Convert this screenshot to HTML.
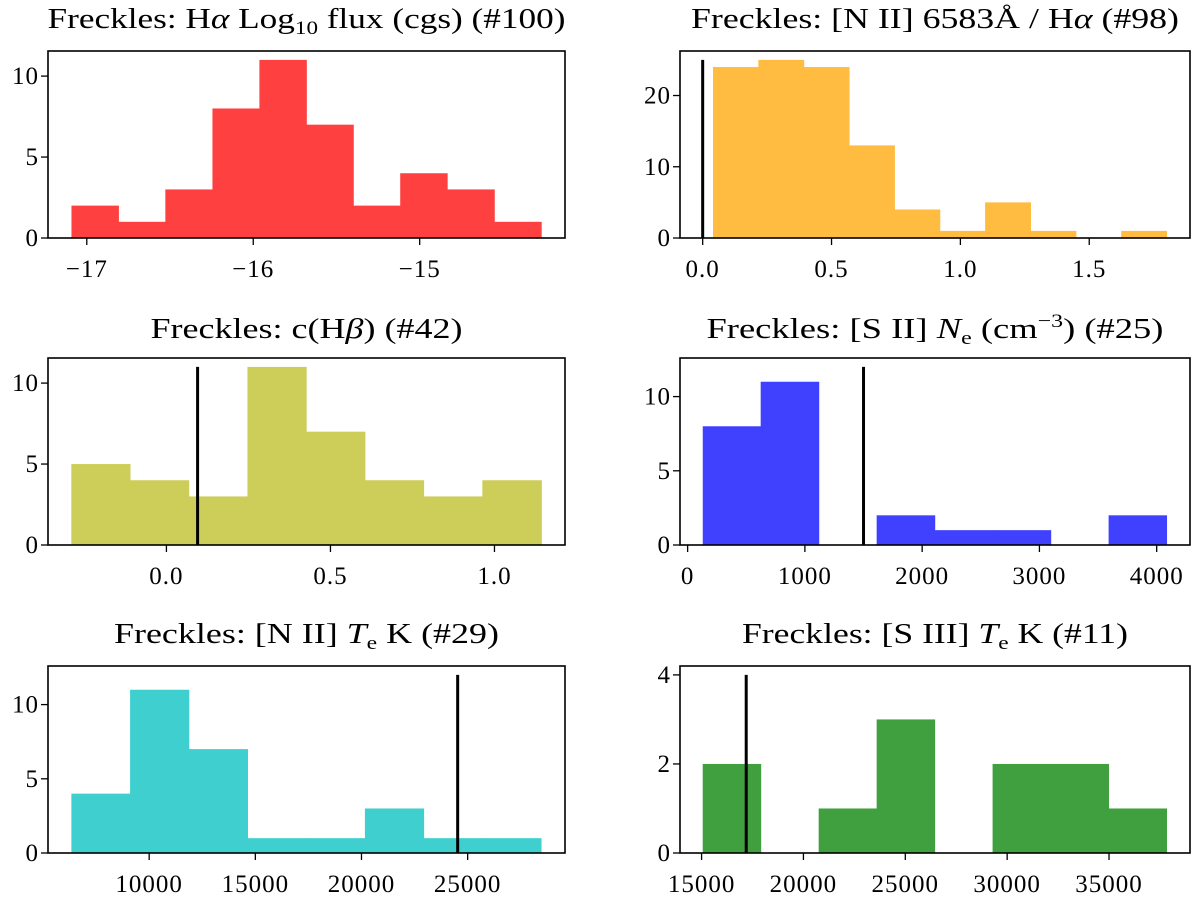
<!DOCTYPE html>
<html><head><meta charset="utf-8"><style>
body{margin:0;background:#fff}
svg{display:block;font-family:"Liberation Serif","DejaVu Serif",serif}
</style></head><body>
<svg id="fig" width="1200" height="897" viewBox="0 0 1200 897"></svg>
<script>
// ---- data (bin edges, counts, reference lines) ----
const p1Edges=[-17.092,-16.810,-16.528,-16.245,-15.963,-15.681,-15.399,-15.117,-14.835,-14.552,-14.270];
const p1Counts=[2,1,3,8,11,7,2,4,3,1];
const p1XTicks=[-17,-16,-15];
const p1YTicks=[0,5,10];

const p2Edges=[0.040,0.216,0.392,0.568,0.744,0.920,1.096,1.272,1.448,1.624,1.800];
const p2Counts=[24,25,24,13,4,1,5,1,0,1];
const p2XTicks=[0.0,0.5,1.0,1.5];
const p2YTicks=[0,10,20];
const p2Line=[0.0,25];

const p3Edges=[-0.290,-0.111,0.068,0.247,0.426,0.605,0.784,0.963,1.143];
const p3Counts=[5,4,3,11,7,4,3,4];
const p3XTicks=[0.0,0.5,1.0];
const p3YTicks=[0,5,10];
const p3Line=[0.095,11];

const p4Edges=[129,623,1118,1612,2107,2601,3096,3590,4084];
const p4Counts=[8,11,0,2,1,1,0,2];
const p4XTicks=[0,1000,2000,3000,4000];
const p4YTicks=[0,5,10];
const p4Line=[1500,12];

const p5Edges=[6336,9101,11866,14631,17396,20161,22926,25691,28456];
const p5Counts=[4,11,7,1,1,3,1,1];
const p5XTicks=[10000,15000,20000,25000];
const p5YTicks=[0,5,10];
const p5Line=[24530,12];

const p6Edges=[15056,17902,20748,23594,26440,29285,32131,34977,37822];
const p6Counts=[2,0,1,3,0,2,2,1];
const p6XTicks=[15000,20000,25000,30000,35000];
const p6YTicks=[0,2,4];
const p6Line=[17191,4];

const NS="http://www.w3.org/2000/svg";
const svg=document.getElementById('fig');
function mk(tag,attrs,parent){const e=document.createElementNS(NS,tag);for(const k in attrs)e.setAttribute(k,attrs[k]);(parent||svg).appendChild(e);return e;}
function fmt(v,dec){let s=v.toFixed(dec);return s.replace('-','\u2212');}

function panel(id,box,xlim,ylim,edges,counts,xt,yt,xdec,color,line,titleHTML,titleY,titleW){
  const g=mk('g',{});
  
  
  const sx=v=>box[0]+(v-xlim[0])/(xlim[1]-xlim[0])*(box[1]-box[0]);
  const sy=v=>box[3]-(v-ylim[0])/(ylim[1]-ylim[0])*(box[3]-box[2]);
  for(let i=0;i<counts.length;i++){
    if(counts[i]<=0)continue;
    const r=mk('rect',{x:sx(edges[i]),y:sy(counts[i]),width:sx(edges[i+1])-sx(edges[i])+0.5,height:sy(0)-sy(counts[i]),fill:color},g);
    
    
  }
  if(line){
    const l=mk('line',{x1:sx(line[0]),x2:sx(line[0]),y1:sy(0),y2:sy(line[1]),stroke:'#000','stroke-width':3},g);
    
    
  }
  const f=mk('rect',{x:box[0],y:box[2],width:box[1]-box[0],height:box[3]-box[2],fill:'none',stroke:'#000','stroke-width':1.6},g);
  
  
  xt.forEach(v=>{
    const x=sx(v);
    mk('line',{x1:x,x2:x,y1:box[3],y2:box[3]+7,stroke:'#000','stroke-width':1.3},g);
    const t=mk('text',{x:x,y:box[3]+39,'text-anchor':'middle','font-size':25,'letter-spacing':1},g);
    t.textContent=fmt(v,xdec);
    
    
  });
  yt.forEach(v=>{
    const y=sy(v);
    mk('line',{x1:box[0]-7,x2:box[0],y1:y,y2:y,stroke:'#000','stroke-width':1.3},g);
    const t=mk('text',{x:box[0]-9,y:y+8,'text-anchor':'end','font-size':25,'letter-spacing':1},g);
    t.textContent=fmt(v,0);
    
    
  });
  const tt=mk('text',{x:(box[0]+box[1])/2,y:titleY,'text-anchor':'middle','font-size':29,textLength:titleW,lengthAdjust:'spacingAndGlyphs'},g);
  tt.innerHTML=titleHTML;
  
  
}
const L=[48,565],R=[680,1190];
const r1=[51,238],r2=[358,545],r3=[666,853];
const sub=s=>'<tspan font-size="19" dy="6">'+s+'</tspan><tspan dy="-6"> </tspan>';
panel('halpha-flux',[L[0],L[1],r1[0],r1[1]],[-17.233,-14.127],[0,11.55],p1Edges,p1Counts,p1XTicks,p1YTicks,0,'#ff4040',null,
 'Freckles: H<tspan font-style="italic">α</tspan> Log'+sub('10')+'flux (cgs) (#100)',28,518);
panel('nii-ratio',[R[0],R[1],r1[0],r1[1]],[-0.088,1.891],[0,26.25],p2Edges,p2Counts,p2XTicks,p2YTicks,1,'#ffbc40',p2Line,
 'Freckles: [N II] 6583Å / H<tspan font-style="italic">α</tspan> (#98)',28,488);
panel('c-hbeta',[L[0],L[1],r2[0],r2[1]],[-0.361,1.215],[0,11.55],p3Edges,p3Counts,p3XTicks,p3YTicks,1,'#cdce59',p3Line,
 'Freckles: c(H<tspan font-style="italic">β</tspan>) (#42)',338,312);
panel('sii-ne',[R[0],R[1],r2[0],r2[1]],[-65,4284],[0,12.6],p4Edges,p4Counts,p4XTicks,p4YTicks,0,'#4040ff',p4Line,
 'Freckles: [S II] <tspan font-style="italic">N</tspan>'+sub('e')+'(cm<tspan font-size="19" dy="-11">−3</tspan><tspan dy="11">) (#25)</tspan>',338,457);
panel('nii-te',[L[0],L[1],r3[0],r3[1]],[5235,29585],[0,12.6],p5Edges,p5Counts,p5XTicks,p5YTicks,0,'#40cfcf',p5Line,
 'Freckles: [N II] <tspan font-style="italic">T</tspan>'+sub('e')+'K (#29)',643,385);
panel('siii-te',[R[0],R[1],r3[0],r3[1]],[13941,38975],[0,4.2],p6Edges,p6Counts,p6XTicks,p6YTicks,0,'#40a040',p6Line,
 'Freckles: [S III] <tspan font-style="italic">T</tspan>'+sub('e')+'K (#11)',643,386);
</script>
</body></html>
